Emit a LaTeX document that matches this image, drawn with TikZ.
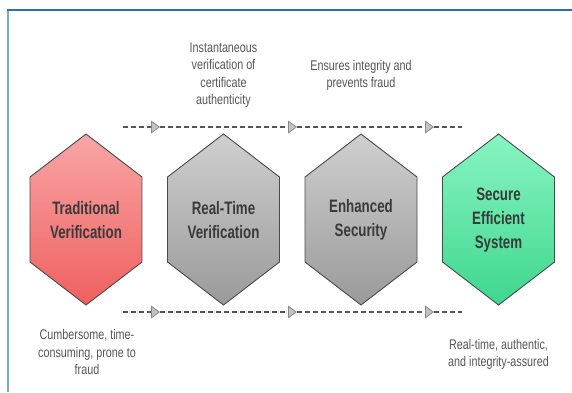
\documentclass[tikz,border=0pt]{standalone}
\usepackage{fontspec}
\setmainfont{Liberation Sans}[FakeStretch=0.77]
\newfontfamily\stagefont{Liberation Sans}[FakeStretch=0.74]
\usetikzlibrary{arrows.meta}

\definecolor{frameTop}{HTML}{2F6FAD}
\definecolor{frameSide}{HTML}{7DA9D0}
\definecolor{hexEdge}{HTML}{4A4A4A}
\definecolor{redTop}{HTML}{F8A6A6}
\definecolor{redBot}{HTML}{F05F5F}
\definecolor{greyTop}{HTML}{CFCFCF}
\definecolor{greyBot}{HTML}{9A9A9A}
\definecolor{greenTop}{HTML}{88F4C2}
\definecolor{greenBot}{HTML}{3ED78E}
\definecolor{flowLine}{HTML}{555555}
\definecolor{tipFill}{HTML}{C2C2C2}
\definecolor{tipEdge}{HTML}{8A8A8A}
\definecolor{noteText}{HTML}{555555}
\definecolor{hexText}{HTML}{3A3A3A}

\tikzset{
  hexline/.style={draw=hexEdge, line width=0.9pt},
  pics/hexa/.style n args={2}{code={
    \path[hexline, top color=#1, bottom color=#2]
      (0,-85.5) -- (56,-42.5) -- (56,42.5) -- (0,85.5)
      -- (-56,42.5) -- (-56,-42.5) -- cycle;
  }},
  hexlabel/.style={align=center, text=hexText,
    font=\stagefont\fontsize{18}{24}\selectfont\bfseries},
  note/.style={align=center, text=noteText,
    font=\fontsize{14}{17.5}\selectfont},
  flow/.style={draw=flowLine, line width=1.6pt, dash pattern=on 5pt off 3pt},
  flowtip/.style={flow, -{Triangle[length=9pt, width=13pt, line width=0.8pt,
    color=tipEdge, fill=tipFill]}},
}

\begin{document}
\begin{tikzpicture}[x=1pt, y=-1pt]
\useasboundingbox (0,0) rectangle (572,392);

% frame
\draw[frameSide, line width=1.5pt] (8,10) -- (8,392);
\draw[frameTop, line width=2pt] (7.25,10) -- (572,10);

% stages
\pic at (86,219.5) {hexa={redTop}{redBot}};
\pic at (223.5,219.5) {hexa={greyTop}{greyBot}};
\pic at (361,219.5) {hexa={greyTop}{greyBot}};
\pic at (498.5,219.5) {hexa={greenTop}{greenBot}};

\node[hexlabel] (trad) at (86,220) {Traditional\\Verification};
\node[hexlabel] (rt)   at (223.5,220) {Real-Time\\Verification};
\node[hexlabel] (enh)  at (361,220) {Enhanced\\Security};
\node[hexlabel] (sec)  at (498.5,220) {Secure\\Efficient\\System};

% flow lines above and below
\foreach \row/\yy in {up/127, dn/312}{
  \coordinate (\row0) at (123,\yy);
  \coordinate (\row1) at (160,\yy);
  \coordinate (\row2) at (297,\yy);
  \coordinate (\row3) at (434,\yy);
  \coordinate (\row4) at (462,\yy);
}
\foreach \row in {up, dn}{
  \draw[flowtip] (\row0) -- (\row1);
  \draw[flowtip] (\row1) -- (\row2);
  \draw[flowtip] (\row2) -- (\row3);
  \draw[flow] (\row3) -- (\row4);
}

% notes
\node[note] (n1) at (223.5,75) {Instantaneous\\verification of\\certificate\\authenticity};
\node[note] (n2) at (361,75.5) {Ensures integrity and\\prevents fraud};
\node[note] (n3) at (87,352) {Cumbersome, time-\\consuming, prone to\\fraud};
\node[note] (n4) at (498.5,354.5) {Real-time, authentic,\\and integrity-assured};
\end{tikzpicture}
\end{document}
